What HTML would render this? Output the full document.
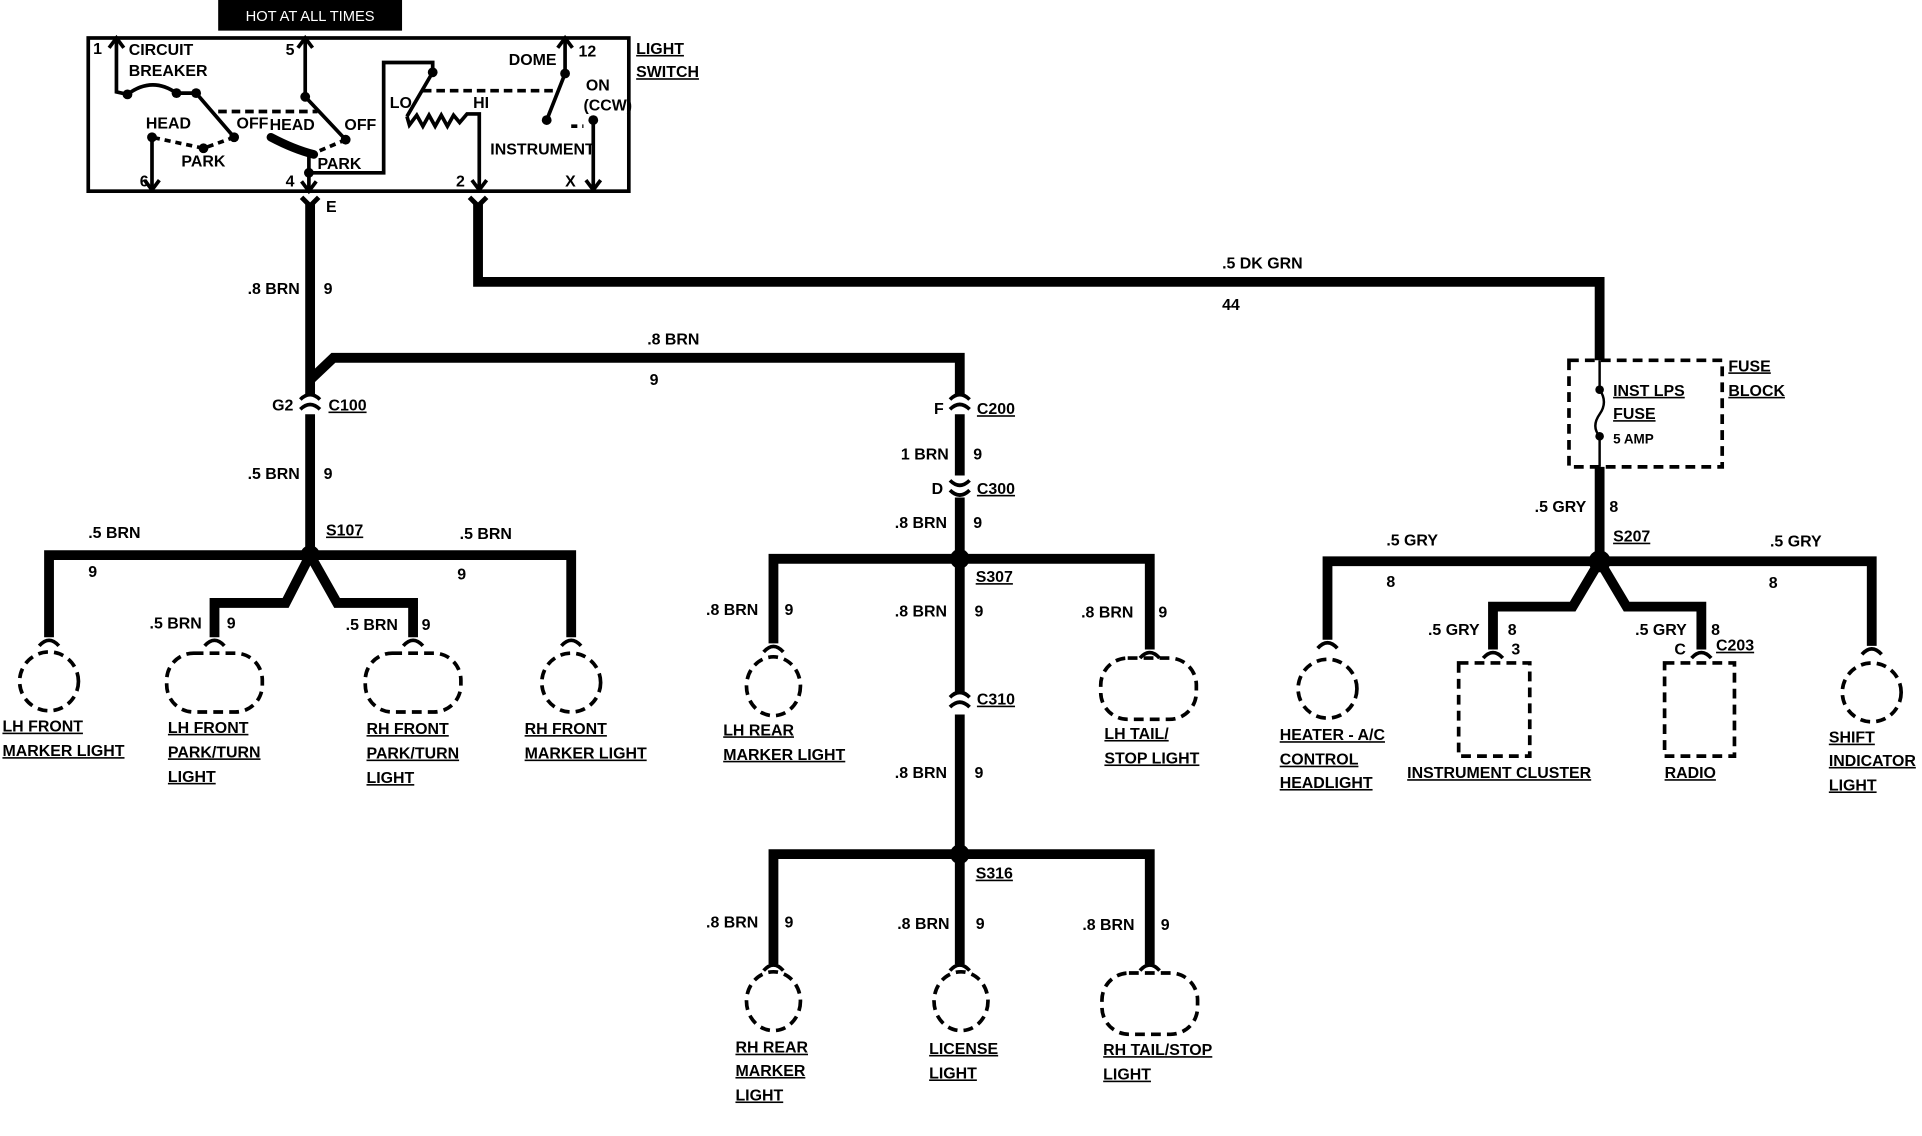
<!DOCTYPE html>
<html><head><meta charset="utf-8"><style>
html,body{margin:0;padding:0;background:#fff;}
svg{display:block}
text{font-family:"Liberation Sans Narrow","Liberation Sans",sans-serif;font-weight:bold;font-size:13px;fill:#000}
.u{text-decoration:underline}
.w{stroke:#000;stroke-width:8;fill:none;stroke-linejoin:miter}
.t{stroke:#000;stroke-width:3;fill:none}
.d{stroke:#000;stroke-width:3;fill:none;stroke-dasharray:8 5}
</style></head><body>
<svg width="1922" height="1136" viewBox="0 0 1568 927" preserveAspectRatio="none" xmlns="http://www.w3.org/2000/svg">
<rect width="1568" height="927" fill="#fff"/>
<!-- header -->
<rect x="178" y="0" width="150" height="25" fill="#000"/>
<text x="253" y="17" text-anchor="middle" style="fill:#fff;font-weight:normal;font-family:'Liberation Sans',sans-serif;font-size:12px">HOT AT ALL TIMES</text>
<!-- switch box -->
<rect x="72" y="31" width="441" height="125" class="t"/>
<text x="519" y="44" class="u">LIGHT</text><text x="519" y="63" class="u">SWITCH</text>
<g class="t">
<path d="M95 31 V75 L104 77 Q124 62 144 76 L160 76 L191 112"/>
<path d="M89 39 L95 31 L101 39"/>
<path d="M124 112 V155"/><path d="M118 147 L124 155 L130 147"/>
<path d="M249 31 V79 L282 114"/><path d="M243 39 L249 31 L255 39"/>
<path d="M252 126 V156"/><path d="M246 148 L252 156 L258 148"/>
<path d="M252 141 H313 V51 H353 V59 L332 95"/>
<path d="M332 95 L334 102 L340 94 L345 103 L350 94 L355 103 L360 94 L365 103 L370 94 L375 100 L381 93 H391 V155"/>
<path d="M385 147 L391 155 L397 147"/>
<path d="M461 31 V60 L446 98"/><path d="M455 39 L461 31 L467 39"/>
<path d="M484 98 V155"/><path d="M478 147 L484 155 L490 147"/>
</g>
<path d="M178 91 L259 91 M345 74 L455 74" class="t" style="stroke-dasharray:7 4"/>
<path d="M191 112 L166 121 L124 112 M282 114 L256 125 M466 103 L476 103" class="t" style="stroke-dasharray:5 4"/>
<path d="M221 112 Q240 122 256 126" stroke="#000" stroke-width="7" fill="none" stroke-linecap="round"/>
<g fill="#000"><circle cx="104" cy="77" r="4"/><circle cx="144" cy="76" r="4"/><circle cx="160" cy="76" r="4"/><circle cx="191" cy="112" r="4"/><circle cx="124" cy="112" r="4"/><circle cx="166" cy="121" r="4"/><circle cx="249" cy="79" r="4"/><circle cx="282" cy="114" r="4"/><circle cx="252" cy="141" r="4"/><circle cx="353" cy="59" r="4"/><circle cx="461" cy="60" r="4"/><circle cx="446" cy="98" r="4"/><circle cx="484" cy="98" r="4"/></g>
<g style="font-size:11px">
<text x="76" y="44">1</text><text x="105" y="45">CIRCUIT</text><text x="105" y="62">BREAKER</text>
<text x="233" y="45">5</text><text x="415" y="53">DOME</text><text x="472" y="46">12</text>
<text x="119" y="105">HEAD</text><text x="148" y="136">PARK</text><text x="193" y="105">OFF</text>
<text x="220" y="106">HEAD</text><text x="281" y="106">OFF</text><text x="259" y="138">PARK</text>
<text x="318" y="88">LO</text><text x="386" y="88">HI</text><text x="478" y="74">ON</text><text x="476" y="90">(CCW)</text>
<text x="400" y="126">INSTRUMENT</text>
<text x="114" y="152">6</text><text x="233" y="152">4</text><text x="372" y="152">2</text><text x="461" y="152">X</text>
</g>
<!-- pin stubs -->
<g class="t" style="stroke-width:4"><path d="M246 161 L253 168 L260 161"/><path d="M383 161 L390 168 L397 161"/></g>
<text x="266" y="173">E</text>
<!-- main wires -->
<path class="w" d="M253 166 V322"/>
<path class="w" d="M253 310 L272 292 H783 V322"/>
<path class="w" d="M390 166 V230 H1305 V294"/>
<path class="w" d="M253 338 V453"/>
<path class="w" d="M783 338 V388 M783 406 V456 V565 M783 583 V697"/>
<!-- connectors -->
<g class="t" style="stroke-width:3">
<path d="M245 326 Q253 318 261 326 M245 334 Q253 326 261 334"/>
<path d="M775 326 Q783 318 791 326 M775 334 Q783 326 791 334"/>
<path d="M775 392 Q783 400 791 392 M775 400 Q783 408 791 400"/>
<path d="M775 569 Q783 561 791 569 M775 577 Q783 569 791 577"/>
</g>
<text x="222" y="335">G2</text><text x="268" y="335" class="u">C100</text>
<text x="762" y="338">F</text><text x="797" y="338" class="u">C200</text>
<text x="760" y="403">D</text><text x="797" y="403" class="u">C300</text>
<text x="797" y="575" class="u">C310</text>
<!-- wire labels -->
<text x="202" y="240">.8 BRN</text><text x="264" y="240">9</text>
<text x="528" y="281">.8 BRN</text><text x="530" y="314">9</text>
<text x="997" y="219">.5 DK GRN</text><text x="997" y="253">44</text>
<text x="202" y="391">.5 BRN</text><text x="264" y="391">9</text>
<text x="735" y="375">1 BRN</text><text x="794" y="375">9</text>
<text x="730" y="431">.8 BRN</text><text x="794" y="431">9</text>
<!-- S107 -->
<path class="w" d="M40 520 V453 H466 V520"/>
<path class="w" d="M253 453 L233 492 H175 V520 M253 453 L275 492 H337 V520"/>
<circle cx="253" cy="453" r="8" fill="#000"/>
<text x="266" y="437" class="u">S107</text>
<text x="72" y="439">.5 BRN</text><text x="72" y="471">9</text>
<text x="375" y="440">.5 BRN</text><text x="373" y="473">9</text>
<text x="122" y="513">.5 BRN</text><text x="185" y="513">9</text>
<text x="282" y="514">.5 BRN</text><text x="344" y="514">9</text>
<!-- S307 -->
<path class="w" d="M631 525 V456 H938 V530"/>
<circle cx="783" cy="456" r="8" fill="#000"/>
<text x="796" y="475" class="u">S307</text>
<text x="576" y="502">.8 BRN</text><text x="640" y="502">9</text>
<text x="730" y="503">.8 BRN</text><text x="795" y="503">9</text>
<text x="882" y="504">.8 BRN</text><text x="945" y="504">9</text>
<text x="730" y="635">.8 BRN</text><text x="795" y="635">9</text>
<!-- S316 -->
<path class="w" d="M631 787 V697 H938 V787 M783 697 V787"/>
<circle cx="783" cy="697" r="8" fill="#000"/>
<text x="796" y="717" class="u">S316</text>
<text x="576" y="757">.8 BRN</text><text x="640" y="757">9</text>
<text x="732" y="758">.8 BRN</text><text x="796" y="758">9</text>
<text x="883" y="759">.8 BRN</text><text x="947" y="759">9</text>
<!-- S207 / fuse -->
<rect x="1280" y="294" width="125" height="87" class="d"/>
<path class="t" d="M1305 294 V318 Q1312 328 1305 338 Q1298 348 1305 356 V381" style="stroke-width:2"/>
<circle cx="1305" cy="318" r="3.5" fill="#000"/><circle cx="1305" cy="356" r="3.5" fill="#000"/>
<text x="1316" y="323" class="u">INST LPS</text><text x="1316" y="342" class="u">FUSE</text><text x="1316" y="362" style="font-size:11px">5 AMP</text>
<text x="1410" y="303" class="u">FUSE</text><text x="1410" y="323" class="u">BLOCK</text>
<path class="w" d="M1305 381 V458"/>
<path class="w" d="M1083 522 V458 H1527 V527"/>
<path class="w" d="M1305 458 L1283 495 H1218 V530 M1305 458 L1327 495 H1388 V530"/>
<circle cx="1305" cy="458" r="9" fill="#000"/>
<text x="1316" y="442" class="u">S207</text>
<text x="1252" y="418">.5 GRY</text><text x="1313" y="418">8</text>
<text x="1131" y="445">.5 GRY</text><text x="1131" y="479">8</text>
<text x="1444" y="446">.5 GRY</text><text x="1443" y="480">8</text>
<text x="1165" y="518">.5 GRY</text><text x="1230" y="518">8</text><text x="1233" y="534">3</text>
<text x="1334" y="518">.5 GRY</text><text x="1396" y="518">8</text><text x="1366" y="534">C</text><text x="1400" y="531" class="u">C203</text>
<rect x="1190" y="541" width="58" height="76" class="d"/>
<rect x="1358" y="541" width="57" height="76" class="d"/>
<!-- lamps -->
<g class="t">
<path d="M32 527 Q40 518 48 527 M167 527 Q175 518 183 527 M329 527 Q337 518 345 527 M458 527 Q466 518 474 527"/>
<path d="M623 532 Q631 523 639 532 M930 537 Q938 528 946 537 M623 792 Q631 783 639 792 M775 792 Q783 783 791 792 M930 792 Q938 783 946 792"/>
<path d="M1075 529 Q1083 520 1091 529 M1519 534 Q1527 525 1535 534 M1210 537 Q1218 528 1226 537 M1380 537 Q1388 528 1396 537"/>
</g>
<g class="d">
<ellipse cx="40" cy="556" rx="24" ry="24"/>
<rect x="136" y="533" width="78" height="48" rx="22"/>
<rect x="298" y="533" width="78" height="48" rx="22"/>
<ellipse cx="466" cy="557" rx="24" ry="24"/>
<ellipse cx="631" cy="560" rx="22" ry="24"/>
<rect x="898" y="537" width="78" height="50" rx="22"/>
<ellipse cx="631" cy="817" rx="22" ry="24"/>
<ellipse cx="784" cy="817" rx="22" ry="24"/>
<rect x="899" y="794" width="78" height="50" rx="22"/>
<ellipse cx="1083" cy="562" rx="24" ry="24"/>
<ellipse cx="1527" cy="565" rx="24" ry="24"/>
</g>
<!-- lamp labels -->
<text x="2" y="597" class="u">LH FRONT</text><text x="2" y="617" class="u">MARKER LIGHT</text>
<text x="137" y="598" class="u">LH FRONT</text><text x="137" y="618" class="u">PARK/TURN</text><text x="137" y="638" class="u">LIGHT</text>
<text x="299" y="599" class="u">RH FRONT</text><text x="299" y="619" class="u">PARK/TURN</text><text x="299" y="639" class="u">LIGHT</text>
<text x="428" y="599" class="u">RH FRONT</text><text x="428" y="619" class="u">MARKER LIGHT</text>
<text x="590" y="600" class="u">LH REAR</text><text x="590" y="620" class="u">MARKER LIGHT</text>
<text x="901" y="603" class="u">LH TAIL/</text><text x="901" y="623" class="u">STOP LIGHT</text>
<text x="600" y="859" class="u">RH REAR</text><text x="600" y="878" class="u">MARKER</text><text x="600" y="898" class="u">LIGHT</text>
<text x="758" y="860" class="u">LICENSE</text><text x="758" y="880" class="u">LIGHT</text>
<text x="900" y="861" class="u">RH TAIL/STOP</text><text x="900" y="881" class="u">LIGHT</text>
<text x="1044" y="604" class="u">HEATER - A/C</text><text x="1044" y="624" class="u">CONTROL</text><text x="1044" y="643" class="u">HEADLIGHT</text>
<text x="1148" y="635" class="u">INSTRUMENT CLUSTER</text>
<text x="1358" y="635" class="u">RADIO</text>
<text x="1492" y="606" class="u">SHIFT</text><text x="1492" y="625" class="u">INDICATOR</text><text x="1492" y="645" class="u">LIGHT</text>
</svg>
</body></html>
